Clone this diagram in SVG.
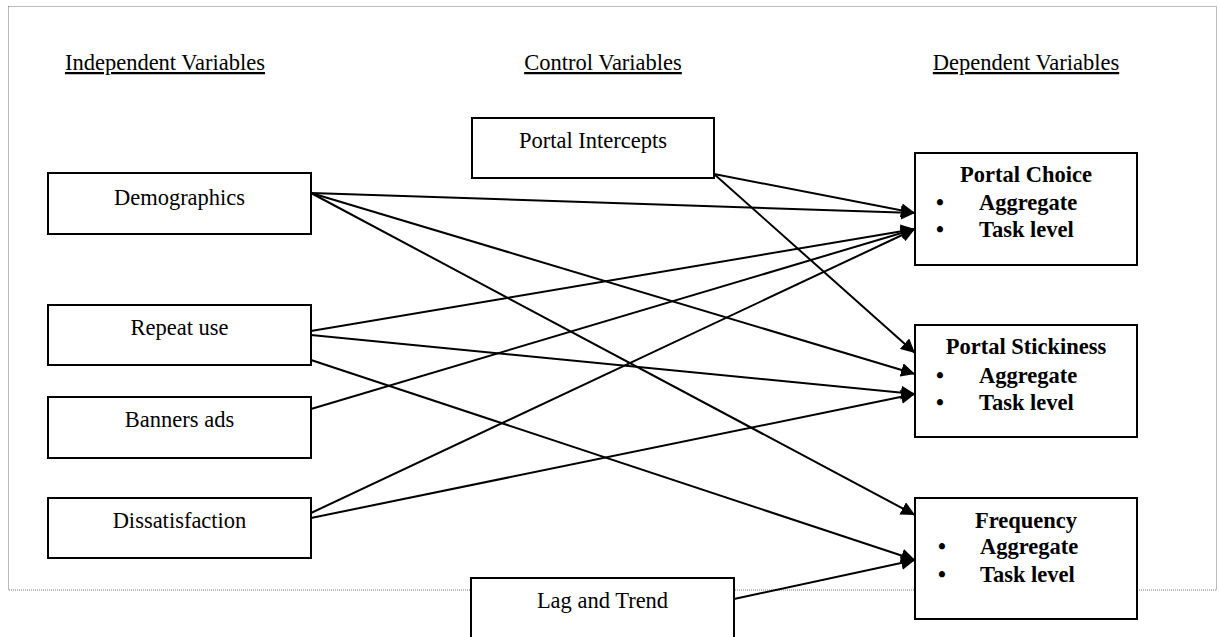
<svg xmlns="http://www.w3.org/2000/svg" width="1219" height="637" viewBox="0 0 1219 637">
<style>
  .frame { fill: none; stroke: #777; stroke-width: 1; stroke-dasharray: 1 1; }
  .box { fill: #fff; stroke: #000; stroke-width: 2; }
  .t { font-family: "Liberation Serif", "Times New Roman", serif; font-size: 22.5px; fill: #000; }
  .c { text-anchor: middle; }
  .b { font-weight: bold; }
  .h { text-decoration: underline; }
  .conn { stroke: #000; stroke-width: 2; fill: none; marker-end: url(#arrow); }
</style>
<defs>
  <marker id="arrow" markerUnits="userSpaceOnUse" markerWidth="16" markerHeight="14" refX="14" refY="7" orient="auto">
    <path d="M0,0 L14,7 L0,14 z" fill="#000"/>
  </marker>
</defs>
<rect x="0" y="0" width="1219" height="637" fill="#fff"/>
<rect class="frame" x="8.5" y="6.5" width="1208" height="583.5"/>
<g id="headings">
  <text class="t c h" x="165" y="70">Independent Variables</text>
  <text class="t c h" x="603" y="70">Control Variables</text>
  <text class="t c h" x="1026" y="70">Dependent Variables</text>
</g>
<g id="connectors">
  <line class="conn" x1="311" y1="193" x2="915" y2="213"/>
  <line class="conn" x1="311" y1="193" x2="915" y2="374"/>
  <line class="conn" x1="311" y1="193" x2="915" y2="515"/>
  <line class="conn" x1="714" y1="174" x2="915" y2="213"/>
  <line class="conn" x1="714" y1="174" x2="915" y2="353"/>
  <line class="conn" x1="311" y1="331" x2="915" y2="229"/>
  <line class="conn" x1="311" y1="335" x2="915" y2="394"/>
  <line class="conn" x1="311" y1="360" x2="915" y2="560"/>
  <line class="conn" x1="311" y1="409" x2="915" y2="229"/>
  <line class="conn" x1="311" y1="513" x2="915" y2="229"/>
  <line class="conn" x1="311" y1="518" x2="915" y2="394"/>
  <line class="conn" x1="734" y1="599" x2="915" y2="560"/>
</g>
<g id="demographics">
  <rect class="box" x="48" y="173" width="263" height="61"/>
  <text class="t c" x="179.5" y="205">Demographics</text>
</g>
<g id="repeat-use">
  <rect class="box" x="48" y="305" width="263" height="60"/>
  <text class="t c" x="179.5" y="335">Repeat use</text>
</g>
<g id="banners-ads">
  <rect class="box" x="48" y="397" width="263" height="61"/>
  <text class="t c" x="179.5" y="427">Banners ads</text>
</g>
<g id="dissatisfaction">
  <rect class="box" x="48" y="498" width="263" height="60"/>
  <text class="t c" x="179.5" y="528">Dissatisfaction</text>
</g>
<g id="portal-intercepts">
  <rect class="box" x="472" y="118" width="242" height="60"/>
  <text class="t c" x="593" y="148">Portal Intercepts</text>
</g>
<g id="lag-and-trend">
  <rect class="box" x="471" y="578" width="263" height="70"/>
  <text class="t c" x="602.5" y="608">Lag and Trend</text>
</g>
<g id="portal-choice">
  <rect class="box" x="915" y="153" width="222" height="112"/>
  <text class="t c b" x="1026" y="182">Portal Choice</text>
  <text class="t b" x="936" y="210">•</text>
  <text class="t b" x="979" y="210">Aggregate</text>
  <text class="t b" x="936" y="237">•</text>
  <text class="t b" x="979" y="237">Task level</text>
</g>
<g id="portal-stickiness">
  <rect class="box" x="915" y="325" width="222" height="112"/>
  <text class="t c b" x="1026" y="354">Portal Stickiness</text>
  <text class="t b" x="936" y="383">•</text>
  <text class="t b" x="979" y="383">Aggregate</text>
  <text class="t b" x="936" y="410">•</text>
  <text class="t b" x="979" y="410">Task level</text>
</g>
<g id="frequency">
  <rect class="box" x="915" y="498" width="222" height="121"/>
  <text class="t c b" x="1026" y="528">Frequency</text>
  <text class="t b" x="938" y="554">•</text>
  <text class="t b" x="980" y="554">Aggregate</text>
  <text class="t b" x="938" y="582">•</text>
  <text class="t b" x="980" y="582">Task level</text>
</g>
</svg>
